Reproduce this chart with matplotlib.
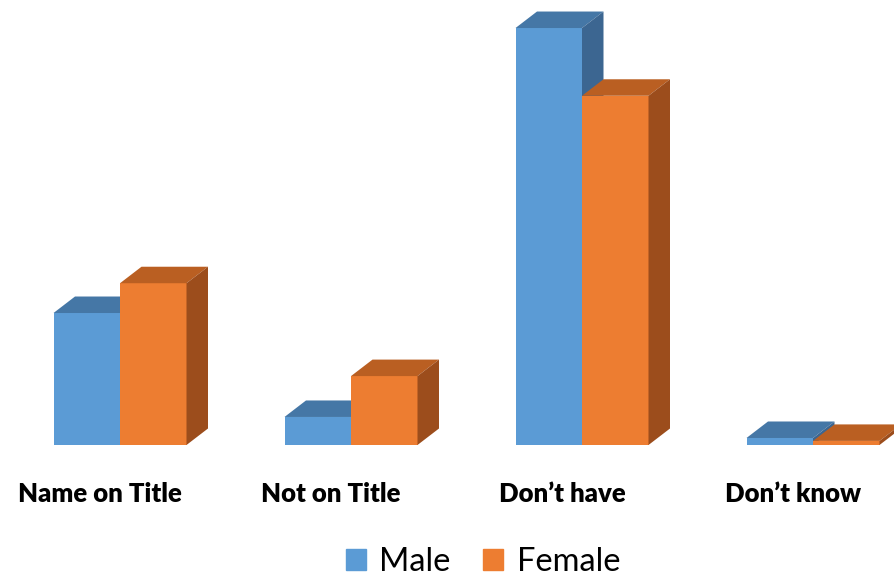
import matplotlib.pyplot as plt
from matplotlib.patches import Polygon, Patch

categories = ['Name on Title', 'Not on Title', 'Don\u2019t have', 'Don\u2019t know']
male = [22.6, 4.8, 71.4, 1.2]
female = [27.7, 11.8, 59.8, 0.7]

# colours: front, top, side
male_cols = ('#5B9BD5', '#4577A6', '#3C6691')
female_cols = ('#ED7D31', '#BA5F22', '#9C4D1C')

W, H, DPI = 894, 578, 100
fig = plt.figure(figsize=(W / DPI, H / DPI), dpi=DPI)
ax = fig.add_axes([0, 0, 1, 1])

# pixel scale of the axes
px_x = 231.0       # pixels per category
px_y = 5.84        # pixels per percent
x0_px, base_px = 120, 445
ax.set_xlim(-x0_px / px_x, (W - x0_px) / px_x)
ax.set_ylim(-(H - base_px) / px_y, base_px / px_y)
ax.axis('off')

bar_w = 66.5 / px_x
dx = 21.5 / px_x   # 3d depth offsets
dy = 16.5 / px_y


def bar3d(x_left, h, cols):
    front, top, side = cols
    xr = x_left + bar_w
    ax.bar(x_left, h, width=bar_w, align='edge', color=front, linewidth=0)
    ax.add_patch(Polygon([(x_left, h), (xr, h), (xr + dx, h + dy), (x_left + dx, h + dy)],
                         closed=True, facecolor=top, linewidth=0))
    ax.add_patch(Polygon([(xr, 0), (xr + dx, dy), (xr + dx, h + dy), (xr, h)],
                         closed=True, facecolor=side, linewidth=0))


for i, (m, f) in enumerate(zip(male, female)):
    bar3d(i - bar_w, m, male_cols)
    bar3d(i, f, female_cols)
    ax.text(i - 20 / px_x, -49.5 / px_y, categories[i], ha='center', va='center',
            fontsize=18.5, fontweight='heavy', family=['Lato', 'DejaVu Sans'])

handles = [Patch(color=male_cols[0], label='Male'), Patch(color=female_cols[0], label='Female')]
fig.legend(handles=handles, loc='center', bbox_to_anchor=(483 / W, 1 - 562 / H), ncol=2,
           frameon=False, prop={'family': 'Lato', 'size': 23.5}, borderpad=0.1,
           handlelength=0.62, handleheight=0.62, handletextpad=0.4, columnspacing=1.0)

fig.savefig('out.png', dpi=DPI)
